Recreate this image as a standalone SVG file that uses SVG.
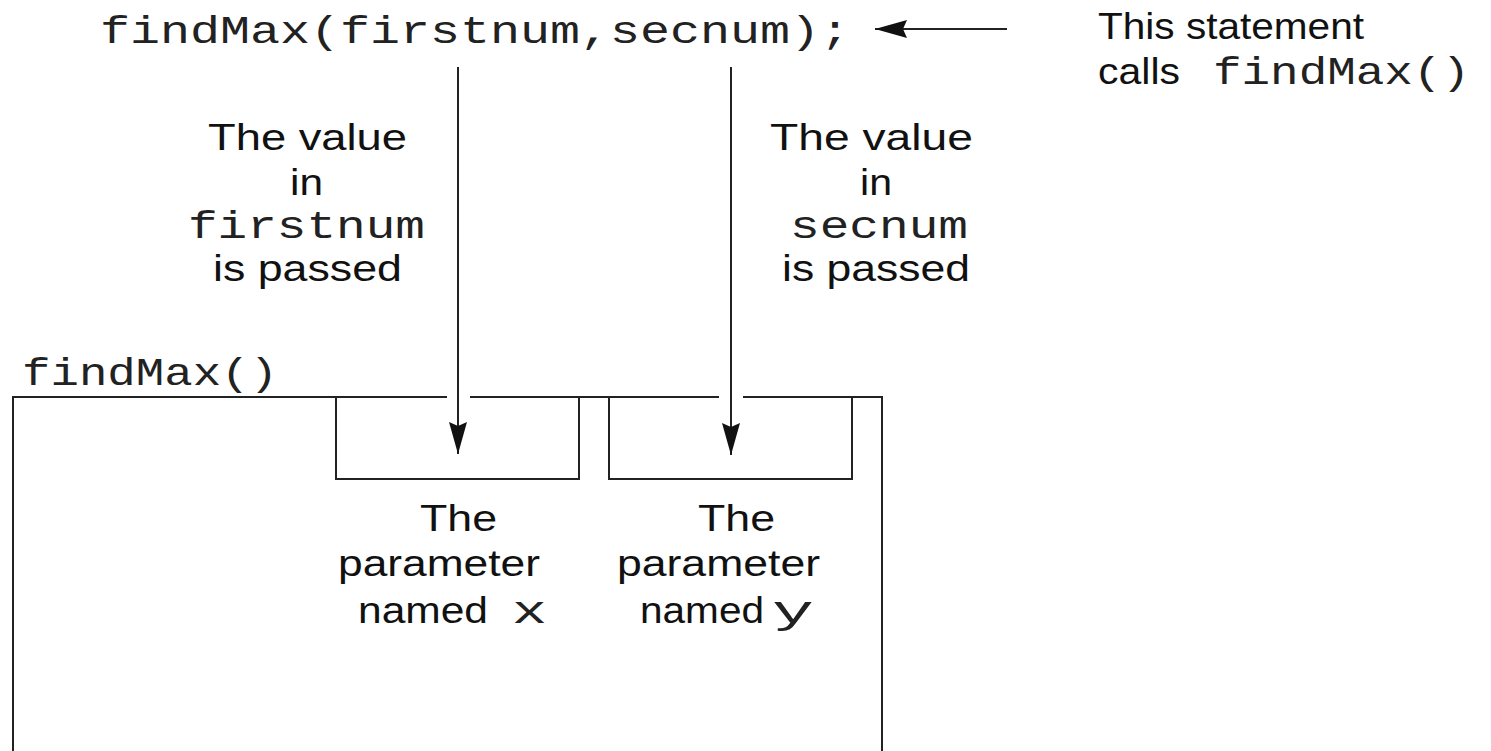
<svg xmlns="http://www.w3.org/2000/svg" width="1491" height="751" viewBox="0 0 1491 751">
  <defs>
    <style>
      .sans { font-family: "Liberation Sans", Arial, Helvetica, sans-serif; font-size: 37px; fill: #111; }
      .mono { font-family: "Liberation Mono", "Courier New", Courier, monospace; font-size: 38px; fill: #222; }
      .ln { stroke: #222; stroke-width: 2; fill: none; }
      .conn { stroke: #222; stroke-width: 2; fill: none; }
    </style>
    <marker id="arrow" viewBox="0 0 32 18" refX="32" refY="9" markerWidth="32" markerHeight="18" markerUnits="userSpaceOnUse" orient="auto">
      <path d="M0,0 L32,9 L0,18 L4,9 Z" fill="#111"/>
    </marker>
  </defs>
  <rect width="1491" height="751" fill="#fff"/>

  <g id="call-statement">
    <text class="mono" x="100" y="43" textLength="750" lengthAdjust="spacingAndGlyphs">findMax(firstnum,secnum);</text>
  </g>

  <g id="call-note">
    <text class="sans" x="1098" y="39" textLength="266" lengthAdjust="spacingAndGlyphs">This statement</text>
    <text class="sans" x="1098" y="84" textLength="82" lengthAdjust="spacingAndGlyphs">calls</text>
    <text class="mono" x="1213" y="84" textLength="257" lengthAdjust="spacingAndGlyphs">findMax()</text>
  </g>

  <g id="label-firstnum">
    <text class="sans" x="208" y="150" textLength="199" lengthAdjust="spacingAndGlyphs">The value</text>
    <text class="sans" x="290" y="195" textLength="33" lengthAdjust="spacingAndGlyphs">in</text>
    <text class="mono" x="188" y="238" textLength="237" lengthAdjust="spacingAndGlyphs">firstnum</text>
    <text class="sans" x="213" y="281" textLength="189" lengthAdjust="spacingAndGlyphs">is passed</text>
  </g>

  <g id="label-secnum">
    <text class="sans" x="770" y="150" textLength="203" lengthAdjust="spacingAndGlyphs">The value</text>
    <text class="sans" x="860" y="195" textLength="32" lengthAdjust="spacingAndGlyphs">in</text>
    <text class="mono" x="790" y="238" textLength="178" lengthAdjust="spacingAndGlyphs">secnum</text>
    <text class="sans" x="782" y="281" textLength="188" lengthAdjust="spacingAndGlyphs">is passed</text>
  </g>

  <g id="function-findMax">
    <text class="mono" x="22" y="385" textLength="256" lengthAdjust="spacingAndGlyphs">findMax()</text>
    <path class="ln" d="M13,751 L13,397 L447,397 M470,397 L719,397 M743,397 L882,397 L882,751"/>
  </g>

  <g id="param-x">
    <path class="ln" d="M336,397 L336,479 L579,479 L579,397"/>
    <text class="sans" x="420" y="531" textLength="77" lengthAdjust="spacingAndGlyphs">The</text>
    <text class="sans" x="338" y="576" textLength="202" lengthAdjust="spacingAndGlyphs">parameter</text>
    <text class="sans" x="358" y="623" textLength="130" lengthAdjust="spacingAndGlyphs">named</text>
    <text class="mono" x="512" y="623" textLength="35" lengthAdjust="spacingAndGlyphs">x</text>
  </g>

  <g id="param-y">
    <path class="ln" d="M609,397 L609,479 L852,479 L852,397"/>
    <text class="sans" x="698" y="531" textLength="77" lengthAdjust="spacingAndGlyphs">The</text>
    <text class="sans" x="617" y="576" textLength="203" lengthAdjust="spacingAndGlyphs">parameter</text>
    <text class="sans" x="640" y="623" textLength="124" lengthAdjust="spacingAndGlyphs">named</text>
    <text class="mono" x="772" y="623" textLength="42" lengthAdjust="spacingAndGlyphs">y</text>
  </g>

  <g id="connectors">
    <line class="conn" x1="1007" y1="29" x2="875" y2="29" marker-end="url(#arrow)"/>
    <line class="conn" x1="458" y1="67" x2="458" y2="454" marker-end="url(#arrow)"/>
    <line class="conn" x1="731" y1="67" x2="731" y2="455" marker-end="url(#arrow)"/>
  </g>
</svg>
